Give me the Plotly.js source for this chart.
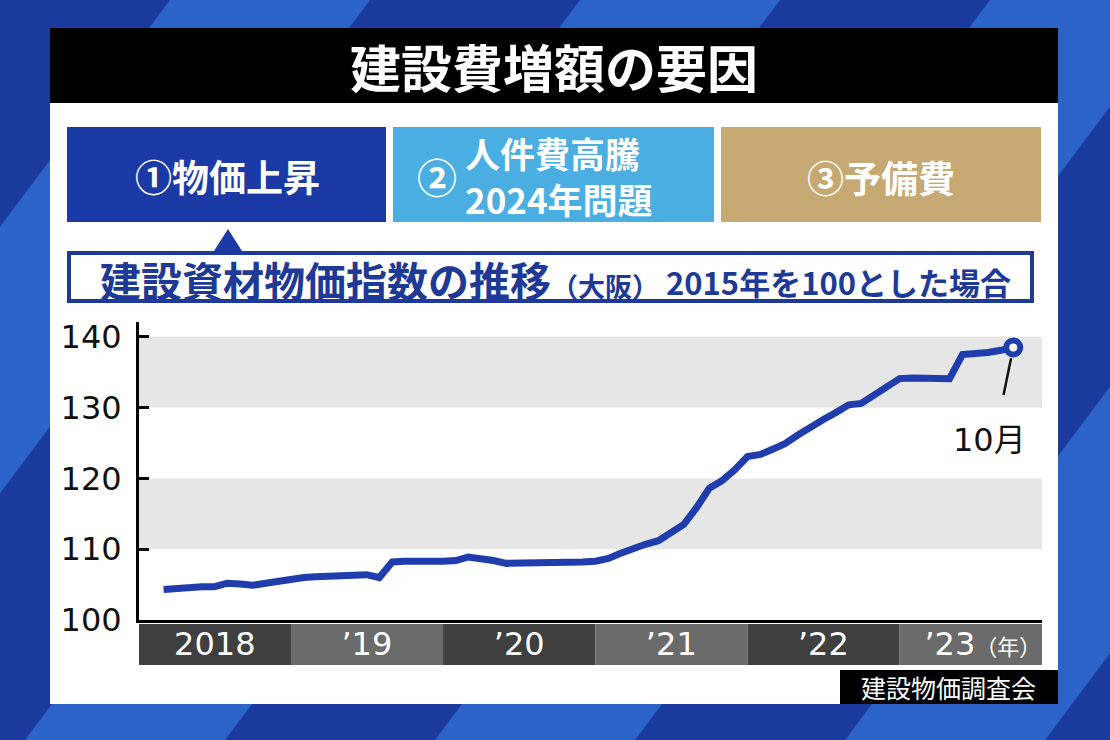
<!DOCTYPE html>
<html><head><meta charset="utf-8">
<script src="https://cdn.plot.ly/plotly-3.0.1.min.js"></script>
<style>html,body{margin:0;padding:0;background:#1b3a9e;}#chart{width:1110px;height:740px;}</style>
</head><body><div id="chart"></div>
<script>
// ---- data ----
const startYear = 2018;
const startMonth = 3; // first value: March 2018
const indexValues = [
  104.3,104.5,104.7,104.7,104.7,105.2,105.1,104.9,105.2,105.5,
  105.9,106.0,106.1,106.2,106.3,106.4,106.4,106.0,108.2,108.3,108.4,108.3,
  108.3,108.4,108.9,108.7,108.4,108.0,108.0,108.0,108.0,108.0,108.0,108.2,
  108.3,108.7,109.4,110.1,110.7,111.2,112.4,113.5,115.9,118.6,119.7,121.2,
  123.1,123.4,124.1,124.9,126.1,127.3,128.3,129.3,130.4,130.6,131.8,133.0,
  134.1,134.2,134.2,134.2,134.1,137.5,137.6,137.8,138.1,138.5
];
const bandYears = [2018, 2019, 2020, 2021, 2022, 2023];
const yearTickVals = ['2018-07-02', '2019-07-02', '2020-07-02', '2021-07-02', '2022-07-02', '2023-07-20'];
const yearTickText = ['2018', '’19', '’20', '’21', '’22', '’23<span style="font-size:22px">（年）</span>'];
const yTickVals = [100, 110, 120, 130, 140];
const shadedRanges = [[110, 120], [130, 140]];
const lastLabel = '10月';
const titleText = '建設費増額の要因';
const factorLabels = ['①物価上昇', '人件費高騰<br>2024年問題', '③予備費'];
const subTitle = '建設資材物価指数の推移';
const subTitleArea = '（大阪）';
const subTitleNote = '2015年を100とした場合';
const sourceText = '建設物価調査会';

// month dates
const dates = indexValues.map((v, i) => {
  const m0 = startMonth - 1 + i;
  const y = startYear + Math.floor(m0 / 12);
  const m = (m0 % 12) + 1;
  return y + '-' + String(m).padStart(2, '0') + '-01';
});

// ---- layout helpers (pixel -> paper) ----
const L = 139, R = 1042, T = 322, B = 620;
const W = R - L, H = B - T;
const px = x => (x - L) / W;
const py = y => (B - y) / H;
const rectPx = (x0, y0, x1, y1, fill, extra) => Object.assign({
  type: 'rect', xref: 'paper', yref: 'paper', x0: px(x0), x1: px(x1), y0: py(y1), y1: py(y0),
  fillcolor: fill, line: {width: 0}, layer: 'below'
}, extra || {});
const pathPx = (pts, fill) => ({
  type: 'path', xref: 'paper', yref: 'paper', layer: 'below', fillcolor: fill, line: {width: 0},
  path: 'M' + pts.map(p => px(p[0]).toFixed(5) + ',' + py(p[1]).toFixed(5)).join(' L') + ' Z'
});

const shapes = [];
// background diagonal stripes
const stripeLight = '#2c63c9';
for (let k = -2; k < 6; k++) {
  const x0 = 170 + k * 410, w = 200, s = 0.75 * 740;
  shapes.push(pathPx([[x0, 0], [x0 + w, 0], [x0 + w - s, 740], [x0 - s, 740]], stripeLight));
}
// white panel and title bar
shapes.push(rectPx(50, 28, 1058, 704, '#ffffff'));
shapes.push(rectPx(50, 28, 1058, 103, '#000000'));
// three factor boxes
shapes.push(rectPx(67, 127, 386, 222, '#1c3aa6'));
shapes.push(rectPx(393, 127, 714, 222, '#4aaee2'));
shapes.push(rectPx(721, 127, 1041, 222, '#c6a872'));
// pointer triangle
shapes.push(pathPx([[214, 251], [228, 229], [242, 251]], '#1c3aa6'));
// subtitle box
shapes.push(rectPx(69, 253, 1032, 301, '#ffffff', {line: {width: 4, color: '#1e3a96'}}));
// source box
shapes.push(rectPx(840, 670, 1058, 704, '#000000'));
// shaded y bands
shadedRanges.forEach(r => shapes.push({
  type: 'rect', xref: 'paper', yref: 'y', x0: 0, x1: 1, y0: r[0], y1: r[1],
  fillcolor: '#e6e6e6', line: {width: 0}, layer: 'below'
}));
// year bands under x axis
bandYears.forEach((yr, i) => shapes.push({
  type: 'rect', xref: 'x', yref: 'paper',
  x0: yr + '-01-01', x1: (i === bandYears.length - 1) ? '2023-12-09' : (yr + 1) + '-01-01',
  y0: py(665), y1: py(624),
  fillcolor: i % 2 === 0 ? '#3f3f3f' : '#6b6b6b', line: {width: 0}, layer: 'below'
}));

const jp = 'Noto Sans CJK JP';
const num = 'DejaVu Sans, Noto Sans CJK JP';
const ann = (x, y, text, size, color, extra) => Object.assign({
  xref: 'paper', yref: 'paper', x: px(x), y: py(y), text: text, showarrow: false,
  font: {family: jp, size: size, color: color, weight: 'bold'}, xanchor: 'center', yanchor: 'middle'
}, extra || {});

const lastX = dates[dates.length - 1], lastY = indexValues[indexValues.length - 1];
const annotations = [
  ann(554, 66, titleText, 51, '#ffffff'),
  ann(227, 176, factorLabels[0], 37, '#ffffff'),
  ann(437, 176, '②', 40, '#ffffff'),
  ann(463, 176, factorLabels[1], 35, '#ffffff', {xanchor: 'left', align: 'left'}),
  ann(881, 177, factorLabels[2], 37, '#ffffff'),
  ann(98, 279, subTitle + '<span style="font-size:27px">' + subTitleArea + '</span>', 41, '#1e3a96', {xanchor: 'left'}),
  ann(664, 281, subTitleNote, 31, '#1e3a96', {xanchor: 'left'}),
  ann(948, 687, sourceText, 25, '#ffffff', {font: {family: jp, size: 25, color: '#ffffff', weight: 'normal'}}),
  {xref: 'x', yref: 'y', x: lastX, y: lastY, text: '', showarrow: true, arrowhead: 0,
   arrowwidth: 2.5, arrowcolor: '#111111', ax: -10, ay: 49, standoff: 11},
  {xref: 'x', yref: 'y', x: lastX, y: lastY, text: lastLabel, showarrow: false,
   xshift: -24, yshift: -93, font: {family: num, size: 32, color: '#111111'}}
];

const lineColor = '#1f3dac';
const traces = [
  {x: dates, y: indexValues, type: 'scatter', mode: 'lines',
   line: {color: lineColor, width: 7}, hoverinfo: 'skip'},
  {x: [lastX], y: [lastY], type: 'scatter', mode: 'markers',
   marker: {symbol: 'circle', size: 14, color: '#ffffff', line: {color: lineColor, width: 6}}, hoverinfo: 'skip'}
];

const layout = {
  width: 1110, height: 740,
  margin: {l: L, r: 1110 - R, t: T, b: 740 - B, pad: 0},
  paper_bgcolor: '#1b3a9e', plot_bgcolor: '#ffffff',
  showlegend: false,
  xaxis: {
    type: 'date', range: ['2018-01-01', '2023-12-09'],
    showgrid: false, zeroline: false, showline: true, linecolor: '#000000', linewidth: 3,
    tickmode: 'array', tickvals: yearTickVals, ticktext: yearTickText, ticks: '',
    tickfont: {family: num, size: 32, color: '#ffffff'},
    ticklabelstandoff: -6, fixedrange: true
  },
  yaxis: {
    range: [100, 142.1], showgrid: false, zeroline: false,
    showline: true, linecolor: '#000000', linewidth: 3,
    tickmode: 'array', tickvals: yTickVals, ticks: 'inside', ticklen: 10, tickwidth: 3, tickcolor: '#000000',
    tickfont: {family: num, size: 32, color: '#111111'},
    ticklabelstandoff: 8, fixedrange: true
  },
  shapes: shapes,
  annotations: annotations
};

Plotly.newPlot('chart', traces, layout, {staticPlot: true, displayModeBar: false});
</script></body></html>
